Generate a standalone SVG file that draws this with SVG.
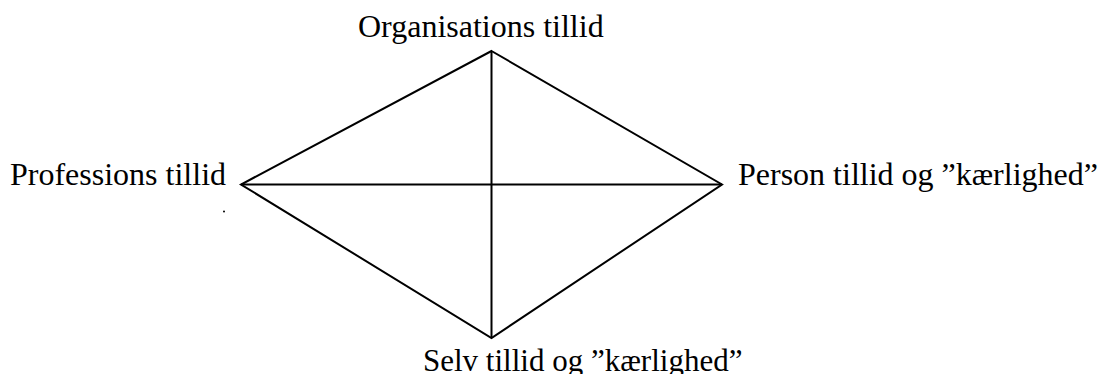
<svg xmlns="http://www.w3.org/2000/svg" width="1098" height="374" viewBox="0 0 1098 374">
  <style>
    .label { font-family: "Liberation Serif", "Times New Roman", serif; font-size: 32px; fill: #000; }
    .edge { stroke: #000; stroke-width: 2; fill: none; stroke-linejoin: miter; }
  </style>
  <rect width="1098" height="374" fill="#fff"/>
  <g id="connectors">
    <polygon class="edge" points="491.5,51 722,184.5 491.5,338 241,184.5"/>
    <line class="edge" x1="491.5" y1="51" x2="491.5" y2="338"/>
    <line class="edge" x1="241" y1="184.5" x2="722" y2="184.5"/>
  </g>
  <g id="node-organisation">
    <text class="label" x="358" y="37">Organisations tillid</text>
  </g>
  <g id="node-profession">
    <text class="label" x="10" y="185">Professions tillid</text>
    <circle cx="224" cy="211.5" r="1" fill="#000"/>
  </g>
  <g id="node-person">
    <text class="label" x="738" y="185">Person tillid og ”kærlighed”</text>
  </g>
  <g id="node-selv">
    <text class="label" x="423" y="371" style="font-size:31px">Selv tillid og ”kærlighed”</text>
  </g>
</svg>
